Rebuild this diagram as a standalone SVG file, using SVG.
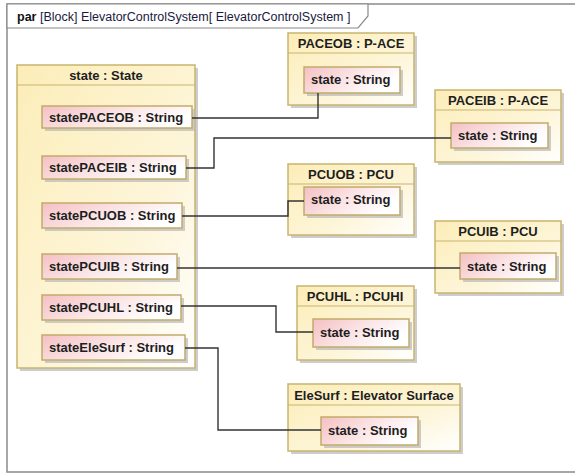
<svg xmlns="http://www.w3.org/2000/svg" width="575" height="473" viewBox="0 0 575 473">
  <defs>
    <linearGradient id="blockFill" x1="0" y1="0" x2="1" y2="1">
      <stop offset="0" stop-color="#fcedb8"/>
      <stop offset="0.6" stop-color="#fdf5d8"/>
      <stop offset="1" stop-color="#ffffff"/>
    </linearGradient>
    <linearGradient id="portFill" x1="0" y1="0" x2="1" y2="0.4">
      <stop offset="0" stop-color="#f4c0c3"/>
      <stop offset="0.55" stop-color="#fbe5e6"/>
      <stop offset="1" stop-color="#ffffff"/>
    </linearGradient>
    <style>
      .frame { fill: none; stroke: #8a8a8a; stroke-width: 1.5; }
      .frameTab { fill: #ffffff; stroke: #8a8a8a; stroke-width: 1.2; }
      .shadow { fill: #b8b8b8; opacity: 0.7; }
      .block { fill: url(#blockFill); stroke: #c9b46e; stroke-width: 1.5; }
      .sep { stroke: #c9b46e; stroke-width: 1.2; }
      .port { fill: url(#portFill); stroke: #c2ab6a; stroke-width: 1.5; }
      .title { font-family: "Liberation Sans", Arial, sans-serif; font-size: 13px; font-weight: bold; fill: #1e1e1e; text-anchor: middle; }
      .plabel { font-family: "Liberation Sans", Arial, sans-serif; font-size: 13px; font-weight: bold; fill: #1e1e1e; }
      .hdr { font-family: "Liberation Sans", Arial, sans-serif; font-size: 12.5px; fill: #1a1a40; }
      .hdrb { font-weight: bold; fill: #111111; }
      .wire { fill: none; stroke: #333333; stroke-width: 1.4; }
    </style>
  </defs>

  <rect width="575" height="473" fill="#ffffff"/>

  <!-- diagram frame with name tab -->
  <g id="frame">
    <rect class="frame" x="7" y="4" width="575" height="468"/>
    <path class="frameTab" d="M7 4 H368 V16 L358 28 H7 Z"/>
    <text class="hdr" x="17" y="21"><tspan class="hdrb">par</tspan>  [Block] ElevatorControlSystem[ ElevatorControlSystem ]</text>
  </g>

  <!-- state : State block with its value properties -->
  <g id="state">
    <rect class="shadow" x="20" y="68" width="178" height="303"/>
    <rect class="block" x="17" y="65" width="178" height="303"/>
    <line class="sep" x1="17" y1="85" x2="195" y2="85"/>
    <text class="title" x="106" y="80">state : State</text>
  </g>
  <g id="statePACEOB">
    <rect class="shadow" x="45" y="109" width="150" height="22"/>
    <rect class="port" x="42" y="106" width="150" height="22"/>
    <text class="plabel" x="49" y="122">statePACEOB : String</text>
  </g>
  <g id="statePACEIB">
    <rect class="shadow" x="45" y="159" width="144" height="23"/>
    <rect class="port" x="42" y="156" width="144" height="23"/>
    <text class="plabel" x="49" y="172">statePACEIB : String</text>
  </g>
  <g id="statePCUOB">
    <rect class="shadow" x="45" y="206" width="140" height="25"/>
    <rect class="port" x="42" y="203" width="140" height="25"/>
    <text class="plabel" x="49" y="220">statePCUOB : String</text>
  </g>
  <g id="statePCUIB">
    <rect class="shadow" x="45" y="257" width="135" height="25"/>
    <rect class="port" x="42" y="254" width="135" height="25"/>
    <text class="plabel" x="49" y="271">statePCUIB : String</text>
  </g>
  <g id="statePCUHL">
    <rect class="shadow" x="45" y="298" width="139" height="25"/>
    <rect class="port" x="42" y="295" width="139" height="25"/>
    <text class="plabel" x="49" y="312">statePCUHL : String</text>
  </g>
  <g id="stateEleSurf">
    <rect class="shadow" x="45" y="338" width="143" height="25"/>
    <rect class="port" x="42" y="335" width="143" height="25"/>
    <text class="plabel" x="49" y="352">stateEleSurf : String</text>
  </g>

  <!-- PACEOB : P-ACE -->
  <g id="PACEOB">
    <rect class="shadow" x="291" y="36" width="126" height="72"/>
    <rect class="block" x="288" y="33" width="126" height="72"/>
    <line class="sep" x1="288" y1="53" x2="414" y2="53"/>
    <text class="title" x="351" y="48">PACEOB : P-ACE</text>
    <rect class="shadow" x="307" y="70" width="96" height="26"/>
    <rect class="port" x="304" y="67" width="96" height="26"/>
    <text class="plabel" x="311" y="84">state : String</text>
  </g>

  <!-- PACEIB : P-ACE -->
  <g id="PACEIB">
    <rect class="shadow" x="438" y="93" width="126" height="72"/>
    <rect class="block" x="435" y="90" width="126" height="72"/>
    <line class="sep" x1="435" y1="110" x2="561" y2="110"/>
    <text class="title" x="498" y="105">PACEIB : P-ACE</text>
    <rect class="shadow" x="454" y="126" width="97" height="25"/>
    <rect class="port" x="451" y="123" width="97" height="25"/>
    <text class="plabel" x="458" y="140">state : String</text>
  </g>

  <!-- PCUOB : PCU -->
  <g id="PCUOB">
    <rect class="shadow" x="291" y="167" width="126" height="71"/>
    <rect class="block" x="288" y="164" width="126" height="71"/>
    <line class="sep" x1="288" y1="184" x2="414" y2="184"/>
    <text class="title" x="351" y="179">PCUOB : PCU</text>
    <rect class="shadow" x="307" y="190" width="96" height="28"/>
    <rect class="port" x="304" y="187" width="96" height="28"/>
    <text class="plabel" x="311" y="204">state : String</text>
  </g>

  <!-- PCUIB : PCU -->
  <g id="PCUIB">
    <rect class="shadow" x="438" y="224" width="126" height="72"/>
    <rect class="block" x="435" y="221" width="126" height="72"/>
    <line class="sep" x1="435" y1="241" x2="561" y2="241"/>
    <text class="title" x="498" y="236">PCUIB : PCU</text>
    <rect class="shadow" x="463" y="256" width="96" height="26"/>
    <rect class="port" x="460" y="253" width="96" height="26"/>
    <text class="plabel" x="467" y="271">state : String</text>
  </g>

  <!-- PCUHL : PCUHI -->
  <g id="PCUHL">
    <rect class="shadow" x="300" y="289" width="117" height="74"/>
    <rect class="block" x="297" y="286" width="117" height="74"/>
    <line class="sep" x1="297" y1="306" x2="414" y2="306"/>
    <text class="title" x="355" y="301">PCUHL : PCUHI</text>
    <rect class="shadow" x="316" y="322" width="96" height="28"/>
    <rect class="port" x="313" y="319" width="96" height="28"/>
    <text class="plabel" x="320" y="337">state : String</text>
  </g>

  <!-- EleSurf : Elevator Surface -->
  <g id="EleSurf">
    <rect class="shadow" x="291" y="387" width="172" height="67"/>
    <rect class="block" x="288" y="384" width="172" height="67"/>
    <line class="sep" x1="288" y1="405" x2="460" y2="405"/>
    <text class="title" x="374" y="400">EleSurf : Elevator Surface</text>
    <rect class="shadow" x="324" y="420" width="97" height="28"/>
    <rect class="port" x="321" y="417" width="97" height="28"/>
    <text class="plabel" x="328" y="435">state : String</text>
  </g>

  <!-- binding connectors -->
  <g id="connectors">
    <polyline class="wire" points="192,118 318,118 318,93"/>
    <polyline class="wire" points="186,168 214,168 214,138 451,138"/>
    <polyline class="wire" points="182,216 288,216 288,201 304,201"/>
    <polyline class="wire" points="177,268 460,268"/>
    <polyline class="wire" points="181,306 276,306 276,332 313,332"/>
    <polyline class="wire" points="185,348 218,348 218,430 321,430"/>
  </g>
</svg>
